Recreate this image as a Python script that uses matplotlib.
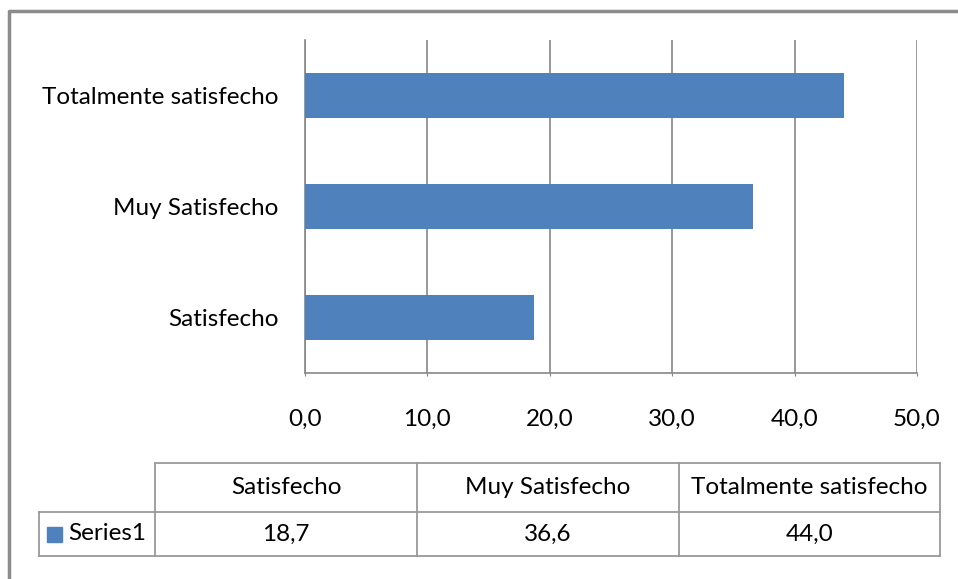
import matplotlib.pyplot as plt
from matplotlib.lines import Line2D
from matplotlib.patches import Rectangle

# datos
categorias = ['Satisfecho', 'Muy Satisfecho', 'Totalmente satisfecho']
valores = [18.7, 36.6, 44.0]
serie = 'Series1'
ticks_x = [0, 10, 20, 30, 40, 50]

azul = '#4F81BD'
gris = '#868686'
W, H = 958, 579
fs = 17.5

plt.rcParams['font.family'] = ['Lato', 'DejaVu Sans']
fig = plt.figure(figsize=(W / 100, H / 100), dpi=100)

# grafico de barras
ax = fig.add_axes([305 / W, 1 - 373 / H, (917 - 305) / W, (373 - 40) / H])
ax.barh(range(len(categorias)), valores, height=0.4, color=azul, zorder=3)
ax.set_xlim(0, 50)
ax.set_ylim(-0.5, len(categorias) - 0.5)
ax.set_xticks(ticks_x)
ax.set_xticklabels([f'{t:.1f}'.replace('.', ',') for t in ticks_x], fontsize=fs)
ax.set_yticks(range(len(categorias)))
ax.set_yticklabels(categorias, fontsize=fs)
ax.tick_params(axis='x', length=2, color=gris, pad=24)
ax.tick_params(axis='y', length=0, pad=19)
ax.grid(axis='x', color=gris, linewidth=1.2, zorder=0)
for s in ['top', 'right']:
    ax.spines[s].set_visible(False)
for s in ['left', 'bottom']:
    ax.spines[s].set_color(gris)
    ax.spines[s].set_linewidth(1.2)

# capa para marco y tabla (en pixeles)
ov = fig.add_axes([0, 0, 1, 1], zorder=-1)
ov.set_xlim(0, W)
ov.set_ylim(H, 0)
ov.axis('off')

# marco exterior
ov.add_line(Line2D([9, 9, W + 5], [H + 5, 11, 11], color='#8C8C8C', linewidth=2.5))

# tabla de datos
cols = [155, 417, 679, 940]
y_top, y_mid, y_bot = 463, 512, 556
lc = '#9A9A9A'
ov.add_line(Line2D([cols[0], cols[-1]], [y_top, y_top], color=lc, lw=1.3))
ov.add_line(Line2D([39, cols[-1]], [y_mid, y_mid], color=lc, lw=1.3))
ov.add_line(Line2D([39, cols[-1]], [y_bot, y_bot], color=lc, lw=1.3))
ov.add_line(Line2D([39, 39], [y_mid, y_bot], color=lc, lw=1.3))
for c in cols:
    ov.add_line(Line2D([c, c], [y_top, y_bot], color=lc, lw=1.3))

for i, (cat, v) in enumerate(zip(categorias, valores)):
    xc = (cols[i] + cols[i + 1]) / 2
    ov.text(xc, (y_top + y_mid) / 2, cat, ha='center', va='center', fontsize=fs)
    ov.text(xc, (y_mid + y_bot) / 2, f'{v:.1f}'.replace('.', ','),
            ha='center', va='center', fontsize=fs)

ov.add_patch(Rectangle((47, 527), 15, 15, color=azul))
ov.text(68, (y_mid + y_bot) / 2, serie, ha='left', va='center', fontsize=fs)

fig.savefig('out.png', dpi=100)
